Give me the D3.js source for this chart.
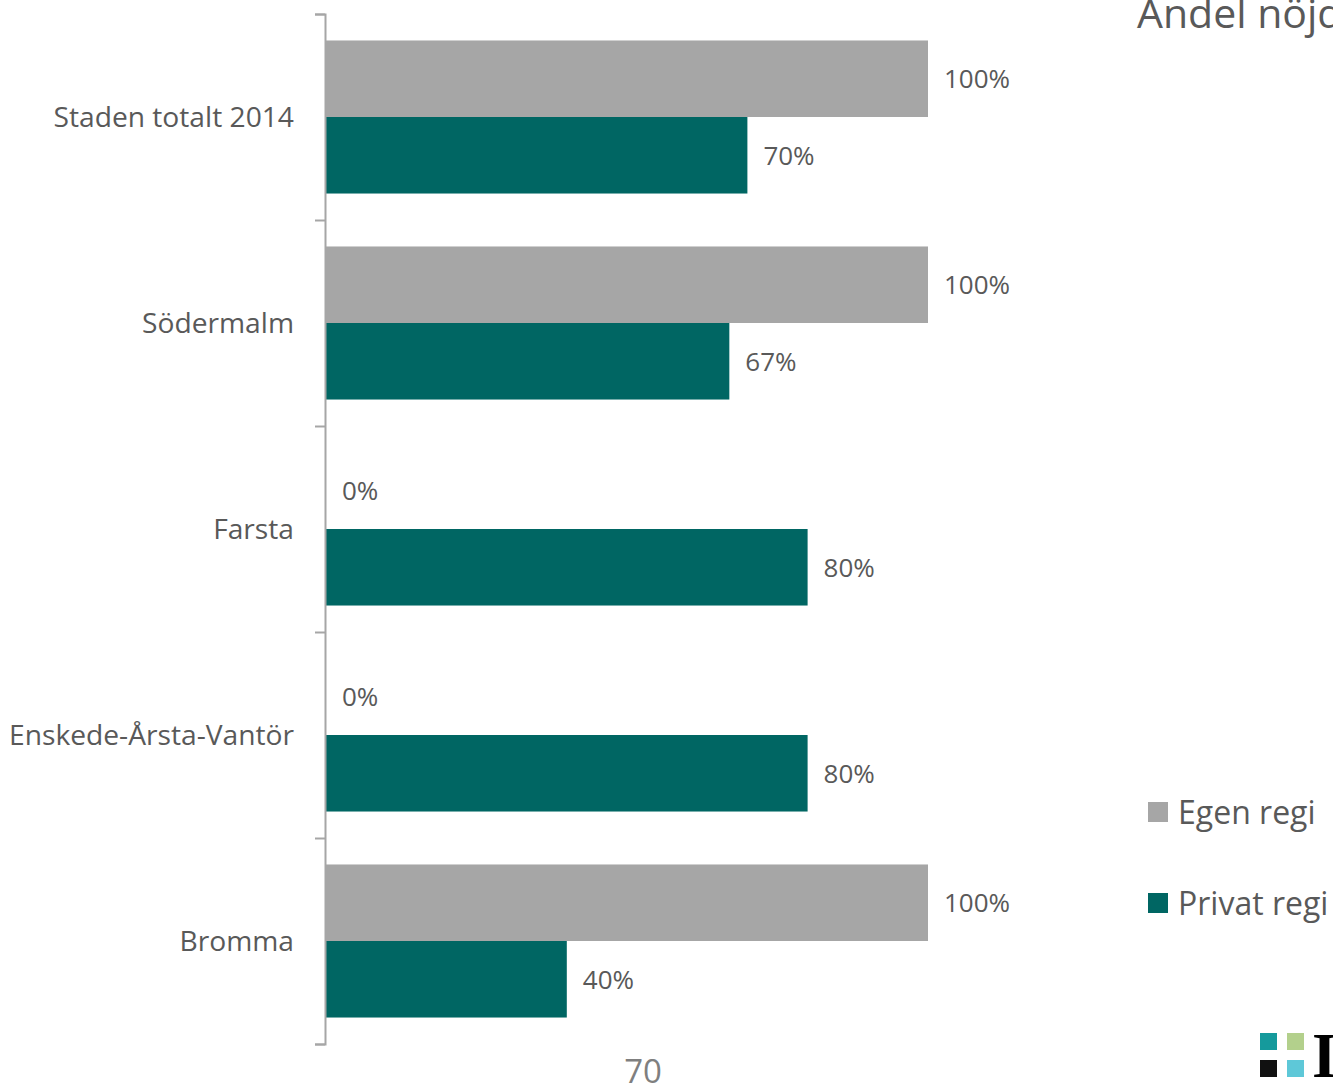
<!DOCTYPE html>
<html>
<head>
<meta charset="utf-8">
<script src="https://cdn.jsdelivr.net/npm/d3@7/dist/d3.min.js"></script>
<style>
  html, body { margin: 0; padding: 0; background: #fff; overflow: hidden; }
  svg { display: block; font-family: "Open Sans", sans-serif; }
</style>
</head>
<body>
<svg id="chart" width="1333" height="1088"></svg>
<script>
// data
var categories = [ 'Staden totalt 2014', 'Södermalm', 'Farsta', 'Enskede-Årsta-Vantör', 'Bromma' ],
    seriesNames = [ 'Egen regi', 'Privat regi' ],
    egenRegi = [ 1.00, 1.00, 0.00, 0.00, 1.00 ],
    privatRegi = [ 0.70, 0.67, 0.80, 0.80, 0.40 ],
    seriesColors = [ '#a6a6a6', '#006663' ],
    titleText = 'Andel nöjda',
    pageNumber = '70';

var svg = d3.select( '#chart' ),
    textColor = '#595959',
    axisX = 325,
    plotTop = 14,
    plotBottom = 1044,
    values = [ egenRegi, privatRegi ];

var x = d3.scaleLinear()
    .domain( [ 0, 1 ] )
    .range( [ axisX + 1, 928 ] );

var y = d3.scaleBand()
    .domain( categories )
    .range( [ plotTop, plotBottom ] )
    .paddingInner( 0.257 )
    .paddingOuter( 0.1285 );

var ySeries = d3.scaleBand()
    .domain( seriesNames )
    .range( [ 0, y.bandwidth() ] );

// bars
seriesNames.forEach( function( name, s ) {
    var g = svg.append( 'g' ).attr( 'class', 'series' );

    g.selectAll( 'rect' )
        .data( categories )
        .enter().append( 'rect' )
        .attr( 'x', x( 0 ) )
        .attr( 'y', function( d ) { return y( d ) + ySeries( name ); } )
        .attr( 'width', function( d, i ) { return x( values[ s ][ i ] ) - x( 0 ); } )
        .attr( 'height', ySeries.bandwidth() )
        .attr( 'fill', seriesColors[ s ] );

    g.selectAll( 'text' )
        .data( categories )
        .enter().append( 'text' )
        .attr( 'x', function( d, i ) { return x( values[ s ][ i ] ) + 16; } )
        .attr( 'y', function( d ) { return y( d ) + ySeries( name ) + ySeries.bandwidth() / 2; } )
        .attr( 'dy', '0.36em' )
        .attr( 'fill', textColor )
        .style( 'font-size', '26px' )
        .text( function( d, i ) { return Math.round( values[ s ][ i ] * 100 ) + '%'; } );
} );

// category axis, ticks sit on the band edges
var edges = d3.scaleLinear()
    .domain( [ 0, categories.length ] )
    .range( [ plotTop, plotBottom ] );

var axis = svg.append( 'g' )
    .attr( 'transform', 'translate(' + axisX + ',0)' )
    .call( d3.axisLeft( edges ).ticks( categories.length ).tickSize( 10 ).tickFormat( '' ) );

axis.selectAll( 'path, line' )
    .attr( 'stroke', '#a6a6a6' )
    .attr( 'stroke-width', 2 );

svg.append( 'g' ).selectAll( 'text' )
    .data( categories )
    .enter().append( 'text' )
    .attr( 'x', 294 )
    .attr( 'y', function( d ) { return y( d ) + y.bandwidth() / 2; } )
    .attr( 'dy', '0.36em' )
    .attr( 'text-anchor', 'end' )
    .attr( 'fill', textColor )
    .style( 'font-size', '28.2px' )
    .text( function( d ) { return d; } );

// title, cut off by the page edge
svg.append( 'text' )
    .attr( 'x', 1137 )
    .attr( 'y', 28 )
    .attr( 'fill', textColor )
    .style( 'font-size', '41px' )
    .text( titleText );

// legend
var legend = svg.append( 'g' ).selectAll( 'g' )
    .data( seriesNames )
    .enter().append( 'g' )
    .attr( 'transform', function( d, i ) { return 'translate(1148,' + ( 802 + i * 91 ) + ')'; } );

legend.append( 'rect' )
    .attr( 'width', 20 )
    .attr( 'height', 20 )
    .attr( 'fill', function( d, i ) { return seriesColors[ i ]; } );

legend.append( 'text' )
    .attr( 'x', 30 )
    .attr( 'y', 10 )
    .attr( 'dy', '0.36em' )
    .attr( 'fill', textColor )
    .style( 'font-size', '32px' )
    .text( function( d ) { return d; } );

// page number
svg.append( 'text' )
    .attr( 'x', 643 )
    .attr( 'y', 1083 )
    .attr( 'text-anchor', 'middle' )
    .attr( 'fill', '#7f7f7f' )
    .style( 'font-size', '33px' )
    .text( pageNumber );

// logo
var logoSquares = [
    { col: 0, row: 0, color: '#159a9c' },
    { col: 1, row: 0, color: '#b3d08c' },
    { col: 0, row: 1, color: '#111111' },
    { col: 1, row: 1, color: '#5ec8d8' }
];

svg.append( 'g' ).selectAll( 'rect' )
    .data( logoSquares )
    .enter().append( 'rect' )
    .attr( 'x', function( d ) { return 1260 + d.col * 27; } )
    .attr( 'y', function( d ) { return 1033 + d.row * 27; } )
    .attr( 'width', 17 )
    .attr( 'height', 17 )
    .attr( 'fill', function( d ) { return d.color; } );

svg.append( 'text' )
    .attr( 'x', 1312 )
    .attr( 'y', 1077 )
    .attr( 'fill', '#000' )
    .style( 'font-family', '"Liberation Serif", serif' )
    .style( 'font-weight', 'bold' )
    .style( 'font-size', '64px' )
    .text( 'I' );
</script>
</body>
</html>
